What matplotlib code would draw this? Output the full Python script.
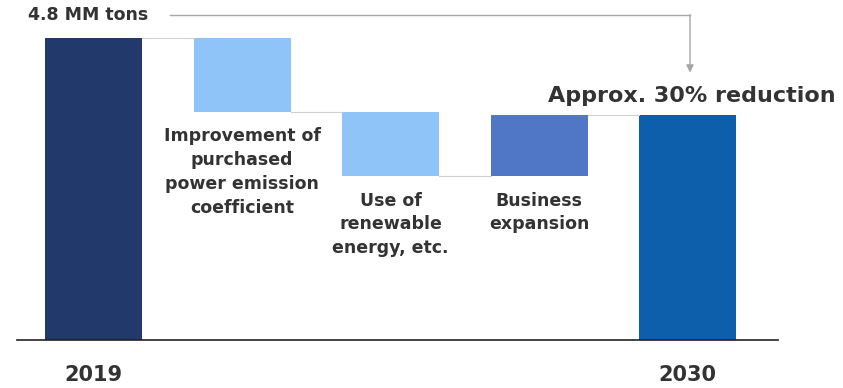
import matplotlib.pyplot as plt
from matplotlib.patches import FancyArrowPatch

# CO2 emissions bridge, MM tons: 2019 level, three drivers, 2030 level
categories = ["2019", "step1", "step2", "step3", "2030"]
start_value = 4.8
deltas = [-1.18, -1.02, 0.97]
step_labels = [
    "Improvement of\npurchased\npower emission\ncoefficient",
    "Use of\nrenewable\nenergy, etc.",
    "Business\nexpansion",
]
end_label = "Approx. 30% reduction"
start_label = "4.8 MM tons"

C_START = "#213a6b"
C_DOWN = "#8ec4f7"
C_UP = "#5077c6"
C_END = "#0d5fac"
C_TEXT = "#333333"

plt.rcParams["font.family"] = "DejaVu Sans"

fig = plt.figure(figsize=(8.43, 3.88), dpi=100)
ax = fig.add_axes([0, 0, 1, 1])
ax.axis("off")

# scale: 302 px per 4.8 units, baseline at pixel row 340
px = 4.8 / 302
ax.set_ylim(-(388 - 340) * px, 340 * px)
step = 148.5
ax.set_xlim(-93.5 / step, (843 - 93.5) / step)
w = 97 / step

# running totals
levels = [start_value]
for d in deltas:
    levels.append(levels[-1] + d)
end_value = levels[-1]

ax.bar(0, start_value, w, color=C_START)
for i, d in enumerate(deltas, start=1):
    lo = min(levels[i - 1], levels[i])
    ax.bar(i, abs(d), w, bottom=lo, color=C_UP if d > 0 else C_DOWN)
ax.bar(4, end_value, w, color=C_END)

# thin connectors between consecutive bars
for i in range(4):
    ax.plot([i + w / 2, i + 1 - w / 2], [levels[i], levels[i]],
            color="#d0d0d0", lw=0.8)

# baseline
ax.plot([-77 / step, (778 - 93.5) / step], [0, 0], color="#222222", lw=1.2)

# step labels below each floating bar
for i, lab in enumerate(step_labels, start=1):
    bottom = min(levels[i - 1], levels[i])
    ax.text(i, bottom - 0.24, lab, ha="center", va="top", fontsize=12.5,
            fontweight="bold", color=C_TEXT, linespacing=1.42)

for i, year in ((0, categories[0]), (4, categories[4])):
    ax.text(i, -0.56, year, ha="center", va="center", fontsize=15,
            fontweight="bold", color=C_TEXT)

ax.text(-0.44, start_value + 0.37, start_label, ha="left", va="center",
        fontsize=12.5, fontweight="bold", color=C_TEXT)
ax.text(5.0, end_value + 0.31, end_label, ha="right", va="center",
        fontsize=16, fontweight="bold", color=C_TEXT)

# bracket arrow from the 2019 label to the 2030 bar
y_top = start_value + 0.37
x_a = (170 - 93.5) / step
x_b = (690 - 93.5) / step
ax.plot([x_a, x_b], [y_top, y_top], color="#a6a6a6", lw=1)
ax.add_patch(FancyArrowPatch((x_b, y_top), (x_b, end_value + 0.68),
                             arrowstyle="-|>", mutation_scale=11,
                             color="#a6a6a6", lw=1, shrinkA=0, shrinkB=0))

fig.savefig("out.png", dpi=100)
